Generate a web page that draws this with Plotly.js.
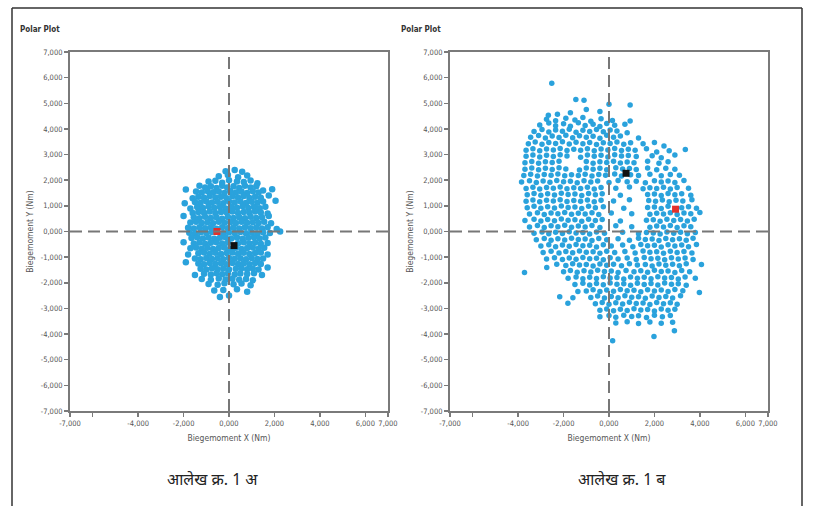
<!DOCTYPE html>
<html>
<head>
<meta charset="utf-8">
<script src="https://cdn.plot.ly/plotly-3.0.1.min.js"></script>
<style>html,body{margin:0;padding:0;background:#fff}#chart{width:813px;height:506px}</style>
</head>
<body>
<div id="chart"></div>
<script>
// Axis ticks
const xTickVals = [-7000,-6000,-4000,-2000,0,2000,4000,6000,7000];
const xTickText = ["-7,000","","-4,000","-2,000","0,000","2,000","4,000","6,000","7,000"];
const yTickVals = [7000,6000,5000,4000,3000,2000,1000,0,-1000,-2000,-3000,-4000,-5000,-6000,-7000];
const yTickText = ["7,000","6,000","5,000","4,000","3,000","2,000","1,000","0,000","-1,000","-2,000","-3,000","-4,000","-5,000","-6,000","-7,000"];

// Chart 1 (left) measured points [x, y] in Nm
const leftPoints = [
[-150,2350],[250,2400],[580,2330],
[-450,2150],[-50,2200],[400,2120],[800,2180],
[-900,1950],[-600,1980],[-300,1900],[0,2000],[350,1950],[650,1930],[950,1990],[1250,1880],
[-1300,1780],[-1050,1720],[-800,1760],[-550,1700],[-300,1780],[-80,1720],[200,1760],[450,1700],[700,1780],[950,1720],[1200,1760],[1900,1650],
[-1900,1640],[-1450,1560],[-1200,1520],[-950,1580],[-700,1530],[-450,1560],[-200,1500],[50,1580],[300,1520],[550,1560],[800,1500],[1050,1570],[1300,1520],[1500,1600],
[-1600,1300],[-1350,1360],[-1100,1320],[-850,1380],[-600,1330],[-350,1360],[-100,1300],[150,1370],[400,1330],[650,1380],[900,1310],[1150,1360],[1400,1320],[1750,1400],
[-1950,1100],[-1500,1150],[-1250,1120],[-1000,1180],[-750,1130],[-500,1160],[-250,1100],[0,1170],[250,1130],[500,1180],[750,1110],[1000,1160],[1250,1120],[1500,1170],[2050,1200],
[-1700,900],[-1400,960],[-1150,920],[-900,980],[-650,930],[-400,960],[-150,900],[100,970],[350,930],[600,980],[850,920],[1100,960],[1350,910],[1600,970],
[-1600,720],[-1350,760],[-1100,730],[-850,780],[-600,720],[-350,760],[-100,740],[150,780],[400,720],[650,760],[900,730],[1150,780],[1400,740],[1700,700],
[-2000,600],[-1550,560],[-1300,520],[-1050,580],[-800,530],[-550,560],[-300,500],[-50,570],[200,530],[450,560],[700,520],[950,580],[1200,530],[1450,560],[1750,600],
[-1700,350],[-1450,380],[-1200,330],[-950,360],[-700,320],[-450,380],[-200,340],[50,360],[300,330],[550,380],[800,340],[1050,360],[1300,330],[1550,380],[1850,320],
[-1800,150],[-1550,120],[-1300,170],[-1050,130],[-800,160],[-550,110],[-300,170],[-50,130],[200,160],[450,120],[700,170],[950,130],[1200,160],[1450,120],[1700,170],[2100,100],
[-1750,-50],[-1500,-80],[-1250,-30],[-1000,-60],[-750,-20],[-250,-70],[0,-30],[250,-60],[500,-20],[750,-70],[1000,-40],[1250,-80],[1500,-30],[1800,-60],[2250,0],
[-1650,-250],[-1400,-220],[-1150,-270],[-900,-230],[-650,-280],[-400,-240],[-150,-220],[100,-270],[350,-230],[600,-280],[850,-240],[1100,-220],[1350,-270],[1600,-230],
[-2000,-420],[-1550,-470],[-1300,-430],[-1050,-480],[-800,-440],[-550,-420],[-300,-470],[-50,-430],[400,-460],[650,-420],[900,-470],[1150,-430],[1400,-480],[1700,-450],
[-1700,-650],[-1450,-620],[-1200,-670],[-950,-630],[-700,-680],[-450,-640],[-200,-620],[50,-670],[300,-630],[550,-680],[800,-640],[1050,-620],[1300,-670],[1550,-630],
[-1800,-900],[-1350,-850],[-1100,-820],[-850,-870],[-600,-830],[-350,-880],[-100,-840],[150,-820],[400,-870],[650,-830],[900,-880],[1150,-840],[1400,-820],[1700,-900],
[-1500,-1050],[-1250,-1080],[-1000,-1030],[-750,-1070],[-500,-1040],[-250,-1080],[0,-1030],[250,-1060],[500,-1040],[750,-1080],[1000,-1030],[1250,-1070],[1500,-1050],
[-1900,-1200],[-1350,-1250],[-1100,-1280],[-850,-1230],[-600,-1270],[-350,-1240],[-100,-1280],[150,-1230],[400,-1270],[650,-1240],[900,-1280],[1150,-1230],[1400,-1270],
[-1250,-1450],[-1000,-1480],[-750,-1430],[-500,-1470],[-250,-1440],[0,-1480],[300,-1450],[550,-1430],[800,-1470],[1050,-1440],[1300,-1480],[1700,-1400],
[-1500,-1700],[-1100,-1650],[-800,-1680],[-550,-1630],[-300,-1670],[-50,-1640],[250,-1680],[500,-1640],[800,-1660],[1100,-1630],[1450,-1700],
[-1200,-1850],[-800,-1880],[-450,-1830],[-150,-1870],[150,-1840],[450,-1880],[750,-1850],[1050,-1900],
[-900,-2050],[-500,-2080],[-200,-2020],[200,-2060],[550,-2030],[950,-2100],
[-650,-2300],[-250,-2280],[350,-2250],[800,-2350],
[0,-2500],[-400,-2550]
];
const leftRed = [-530, 0];
const leftBlack = [220, -550];

// Chart 2 (right) measured points [x, y] in Nm
const rightPoints = [
[-2520,5780],
[-1460,5150],[-1100,5120],
[0,4960],[930,4930],
[-2670,4530],[-2270,4570],[-1700,4630],[-1000,4760],[-400,4680],
[-2750,4380],[-2350,4320],[-1900,4420],[-1500,4350],[-1150,4450],[-800,4300],[-350,4400],[150,4330],[930,4310],
[-3050,4150],[-2650,4230],[-2350,4120],[-2000,4200],[-1700,4100],[-1350,4240],[-1050,4130],[-700,4180],[-400,4090],[-100,4210],[250,4140],[700,4180],
[-3300,3900],[-2950,3980],[-2650,3880],[-2350,3960],[-2050,3910],[-1750,3990],[-1450,3870],[-1150,3950],[-850,3900],[-550,3980],[-250,3890],[50,3960],[350,3920],[800,3850],
[-3450,3680],[-3100,3740],[-2800,3650],[-2500,3720],[-2200,3670],[-1900,3750],[-1600,3660],[-1300,3730],[-1000,3680],[-700,3710],[-400,3640],[-100,3750],[200,3680],[500,3720],[1300,3650],[2000,3470],
[-3550,3420],[-3250,3490],[-2950,3400],[-2650,3470],[-2350,3430],[-2050,3500],[-1750,3410],[-1450,3480],[-1150,3420],[-850,3470],[-550,3390],[-250,3460],[50,3430],[350,3490],[650,3400],[950,3460],[1500,3420],[2420,3330],[3360,3200],
[-3650,3170],[-3350,3230],[-3050,3150],[-2750,3220],[-2450,3180],[-2150,3240],[-1850,3160],[-1550,3210],[-1250,3170],[-950,3230],[-650,3150],[-350,3220],[-50,3180],[250,3240],[550,3160],[850,3210],[1150,3170],[1650,3230],[2100,3100],[2650,3150],
[-3650,2930],[-3350,2980],[-3050,2910],[-2750,2970],[-2450,2920],[-2150,2990],[-1850,2940],[-1250,2900],[-950,2980],[-650,2930],[-350,2970],[-50,2910],[250,2990],[550,2940],[850,2960],[1200,2920],[1900,2950],[2300,2880],[2900,2980],
[-3700,2680],[-3400,2730],[-3100,2660],[-2800,2720],[-2500,2690],[-2200,2740],[-1000,2730],[-700,2660],[-400,2720],[-100,2690],[200,2740],[500,2670],[800,2710],[1100,2680],[1700,2740],[2200,2660],[2600,2720],
[-3700,2430],[-3400,2480],[-3100,2410],[-2800,2470],[-2500,2420],[-2200,2490],[-1900,2440],[-1300,2400],[-1000,2480],[-700,2430],[-400,2470],[-100,2410],[300,2490],[600,2440],[900,2460],[1200,2420],[1700,2480],[2100,2410],[2500,2470],[2900,2430],
[-3750,2180],[-3450,2230],[-3150,2160],[-2850,2220],[-2550,2190],[-2250,2240],[-1950,2170],[-1650,2210],[-1350,2180],[-1050,2230],[-750,2160],[-450,2220],[-150,2190],[250,2240],[550,2160],[950,2210],[1300,2180],[1800,2230],[2300,2170],[2700,2220],[3100,2190],
[-3850,1930],[-3500,1980],[-3200,1910],[-2900,1970],[-2600,1920],[-2300,1990],[-2000,1940],[-1700,1960],[-1400,1900],[-1100,1980],[-800,1930],[-500,1970],[0,1910],[400,1990],[800,1940],[1200,1960],[1600,1900],[2000,1980],[2300,1930],[2600,1970],[2900,1910],[3300,1990],
[-3650,1680],[-3350,1730],[-3050,1660],[-2750,1720],[-2450,1690],[-2150,1740],[-1850,1670],[-1550,1710],[-1250,1680],[-950,1730],[-650,1660],[-350,1720],[300,1690],[900,1740],[1500,1670],[1800,1710],[2100,1680],[2400,1730],[2700,1660],[3000,1720],[3500,1690],
[-3600,1430],[-3300,1480],[-3000,1410],[-2700,1470],[-2400,1420],[-2100,1490],[-1800,1440],[-1500,1460],[-1200,1400],[-900,1480],[-600,1430],[-300,1470],[500,1410],[1700,1440],[2000,1460],[2300,1400],[2600,1480],[2900,1430],[3200,1470],[3600,1410],
[-3650,1180],[-3350,1230],[-3050,1160],[-2750,1220],[-2450,1190],[-2150,1240],[-1850,1170],[-1550,1210],[-1250,1180],[-950,1230],[-650,1160],[-350,1220],[200,1190],[900,1240],[1750,1210],[2050,1180],[2350,1230],[2650,1160],[2950,1220],[3250,1190],[3650,1240],
[-3600,930],[-3300,980],[-3000,910],[-2700,970],[-2400,920],[-2100,990],[-1800,940],[-1500,960],[-1200,900],[-900,980],[-600,930],[-250,970],[650,910],[1700,940],[2000,960],[2300,900],[2600,980],[3200,930],[3500,970],[3850,910],
[-3500,680],[-3150,730],[-2850,660],[-2550,720],[-2250,690],[-1950,740],[-1650,670],[-1350,710],[-1050,680],[-750,730],[-450,660],[100,720],[1000,690],[1800,670],[2100,710],[2400,680],[2700,730],[3000,660],[3300,720],[3600,690],[4000,740],
[-3700,430],[-3300,480],[-3000,410],[-2700,470],[-2400,420],[-2100,490],[-1800,440],[-1500,460],[-1200,400],[-900,480],[-600,430],[-300,470],[500,410],[1650,440],[1950,460],[2250,400],[2550,480],[2850,430],[3150,470],[3450,410],[3750,480],
[-3500,180],[-3150,230],[-2850,160],[-2550,220],[-2250,190],[-1950,240],[-1650,170],[-1350,210],[-1050,180],[-750,230],[-400,160],[300,220],[1000,190],[1800,170],[2100,210],[2400,180],[2700,230],[3000,160],[3300,220],[3600,190],
[-3300,-70],[-2950,-20],[-2650,-90],[-2350,-30],[-2050,-80],[-1750,-10],[-1450,-60],[-1150,-40],[-850,-100],[-550,-20],[-200,-70],[600,-30],[1300,-90],[1650,-40],[1950,-60],[2250,-100],[2550,-20],[2850,-70],[3150,-30],[3450,-90],[3800,-40],
[-3200,-320],[-2850,-270],[-2550,-340],[-2250,-280],[-1950,-330],[-1650,-260],[-1350,-310],[-1050,-290],[-750,-350],[-450,-270],[-100,-320],[400,-280],[900,-340],[1300,-260],[1600,-310],[1900,-290],[2200,-350],[2500,-270],[2800,-320],[3100,-280],[3400,-340],[3700,-260],
[-3000,-570],[-2650,-520],[-2350,-590],[-2050,-530],[-1750,-580],[-1450,-510],[-1150,-560],[-850,-540],[-550,-600],[-250,-520],[100,-570],[600,-530],[1050,-590],[1400,-510],[1700,-560],[2000,-540],[2300,-600],[2600,-520],[2900,-570],[3200,-530],[3500,-590],[3850,-510],
[-2900,-820],[-2550,-770],[-2200,-840],[-1900,-780],[-1600,-830],[-1300,-760],[-1000,-810],[-700,-790],[-400,-850],[-100,-770],[250,-820],[700,-780],[1150,-840],[1500,-760],[1800,-810],[2100,-790],[2400,-850],[2700,-770],[3000,-820],[3300,-780],[3650,-840],
[-2750,-1070],[-2400,-1020],[-2050,-1090],[-1750,-1030],[-1450,-1080],[-1150,-1010],[-850,-1060],[-550,-1040],[-250,-1100],[50,-1020],[400,-1070],[800,-1030],[1200,-1090],[1550,-1010],[1850,-1060],[2150,-1040],[2450,-1100],[2750,-1020],[3050,-1070],[3350,-1030],[3700,-1090],
[-2740,-1400],[-2300,-1280],[-1900,-1330],[-1600,-1260],[-1300,-1310],[-1000,-1290],[-700,-1350],[-400,-1270],[-100,-1320],[200,-1280],[550,-1340],[900,-1260],[1250,-1310],[1600,-1290],[1900,-1350],[2200,-1270],[2500,-1320],[2800,-1280],[3100,-1340],[3400,-1260],[4070,-1290],
[-3720,-1600],[-2000,-1570],[-1700,-1520],[-1400,-1590],[-1100,-1530],[-800,-1580],[-500,-1510],[-200,-1560],[100,-1540],[400,-1600],[750,-1520],[1100,-1570],[1400,-1530],[1700,-1590],[2000,-1510],[2300,-1560],[2600,-1540],[2900,-1600],[3200,-1520],[3550,-1570],
[-1800,-1820],[-1450,-1770],[-1150,-1840],[-850,-1780],[-550,-1830],[-250,-1760],[50,-1810],[350,-1790],[650,-1850],[950,-1770],[1250,-1820],[1550,-1780],[1850,-1840],[2150,-1760],[2450,-1810],[2750,-1790],[3050,-1850],[3350,-1770],[3800,-1820],
[-1500,-2070],[-1150,-2020],[-850,-2090],[-550,-2030],[-250,-2080],[50,-2010],[350,-2060],[650,-2040],[950,-2100],[1250,-2020],[1550,-2070],[1850,-2030],[2150,-2090],[2450,-2010],[2750,-2060],[3050,-2040],[3400,-2100],
[-2170,-2540],[-1370,-2340],[-1000,-2320],[-700,-2270],[-400,-2340],[-100,-2280],[200,-2330],[500,-2260],[800,-2310],[1100,-2290],[1400,-2350],[1700,-2270],[2000,-2320],[2300,-2280],[2600,-2340],[2900,-2260],[3250,-2310],[3980,-2380],
[-1590,-2580],[-800,-2570],[-500,-2520],[-200,-2590],[100,-2530],[400,-2580],[700,-2510],[1000,-2560],[1300,-2540],[1600,-2600],[1900,-2520],[2200,-2570],[2500,-2530],[2800,-2590],[3150,-2510],
[-1810,-2800],[-600,-2820],[-300,-2770],[0,-2840],[300,-2780],[600,-2830],[900,-2760],[1200,-2810],[1500,-2790],[1800,-2850],[2100,-2770],[2400,-2820],[2700,-2780],[3000,-2840],
[-400,-3070],[-100,-3020],[200,-3090],[500,-3030],[800,-3080],[1100,-3010],[1400,-3060],[1700,-3040],[2000,-3100],[2300,-3020],[2600,-3070],[2900,-3030],
[-400,-3320],[0,-3280],[300,-3340],[650,-3270],[1000,-3310],[1300,-3290],[1650,-3350],[2000,-3270],[2350,-3320],[2700,-3280],
[300,-3570],[800,-3520],[1300,-3590],[1800,-3530],[2300,-3580],[2800,-3540],
[2880,-3870],[1980,-4090],[160,-4260]
];
const rightRed = [2930, 870];
const rightBlack = [750, 2270];

const captions = ["आलेख क्र. 1 अ", "आलेख क्र. 1 ब"];
const panelTitle = "Polar Plot";
const xTitle = "Biegemoment X (Nm)";
const yTitle = "Biegemoment Y (Nm)";

const BLUE = '#2aa2dc';
const AX = '#7a7a7a';
const FONT = 'DejaVu Sans Condensed, Liberation Sans Narrow, Liberation Sans, sans-serif';
const tickFont = {family: FONT, size: 7.5, color: '#555'};

function scatter(pts, xa, ya, sz) {
  return {x: pts.map(p => p[0]), y: pts.map(p => p[1]), xaxis: xa, yaxis: ya, type: 'scatter', mode: 'markers',
    marker: {color: BLUE, size: sz}, hoverinfo: 'skip'};
}
function special(pt, color, xa, ya) {
  return {x: [pt[0]], y: [pt[1]], xaxis: xa, yaxis: ya, type: 'scatter', mode: 'markers',
    marker: {color: color, size: 7, symbol: 'square'}, hoverinfo: 'skip'};
}

const data = [
  scatter(leftPoints, 'x', 'y', 6.5),
  special(leftRed, '#e2312b', 'x', 'y'),
  special(leftBlack, '#111', 'x', 'y'),
  scatter(rightPoints, 'x2', 'y2', 5.5),
  special(rightRed, '#e2312b', 'x2', 'y2'),
  special(rightBlack, '#111', 'x2', 'y2')
];

const W = 813, H = 506;
const yDom = [(H - 411) / H, (H - 52) / H];
function xAxis(dom, anchor) {
  return {domain: dom, anchor: anchor, range: [-7000, 7000], tickmode: 'array', tickvals: xTickVals, ticktext: xTickText,
    ticks: 'outside', ticklen: 4, tickwidth: 1.5, tickcolor: AX, showline: true, linecolor: AX, linewidth: 2, mirror: true,
    showgrid: false, zeroline: false, tickfont: tickFont, fixedrange: true,
    title: {text: xTitle, font: {family: FONT, size: 8.5, color: '#555'}, standoff: 8}};
}
function yAxis(anchor) {
  return {domain: yDom, anchor: anchor, range: [-7000, 7000], tickmode: 'array', tickvals: yTickVals, ticktext: yTickText,
    ticks: 'outside', ticklen: 4, tickwidth: 1.5, tickcolor: AX, showline: true, linecolor: AX, linewidth: 2, mirror: true,
    showgrid: false, zeroline: false, tickfont: tickFont, fixedrange: true,
    title: {text: yTitle, font: {family: FONT, size: 8.5, color: '#555'}, standoff: 6}};
}

const dashLine = {color: '#777', width: 2, dash: '12px,6px'};
const shapes = [];
[['x','y'],['x2','y2']].forEach(([xa, ya]) => {
  shapes.push({type: 'line', xref: xa, yref: ya, x0: 0, x1: 0, y0: -7000, y1: 7000, line: dashLine, layer: 'above'});
  shapes.push({type: 'line', xref: xa, yref: ya, x0: -7000, x1: 7000, y0: 0, y1: 0, line: dashLine, layer: 'above'});
});
const frame = {color: '#333', width: 1.5};
const fl = 12 / W, fr = 802 / W, ft = (H - 8) / H;
shapes.push({type: 'line', xref: 'paper', yref: 'paper', x0: fl, x1: fl, y0: 0, y1: ft, line: frame});
shapes.push({type: 'line', xref: 'paper', yref: 'paper', x0: fr, x1: fr, y0: 0, y1: ft, line: frame});
shapes.push({type: 'line', xref: 'paper', yref: 'paper', x0: fl, x1: fr, y0: ft, y1: ft, line: frame});

const capFont = {family: 'Noto Sans Devanagari, Lohit Devanagari, FreeSans, Noto Sans, sans-serif', size: 16, color: '#222'};
const annotations = [
  {text: '<b>' + panelTitle + '</b>', x: 18 / W, y: (H - 30) / H, xref: 'paper', yref: 'paper', xanchor: 'left', yanchor: 'middle', showarrow: false, font: {family: FONT, size: 8, color: '#333'}},
  {text: '<b>' + panelTitle + '</b>', x: 399 / W, y: (H - 30) / H, xref: 'paper', yref: 'paper', xanchor: 'left', yanchor: 'middle', showarrow: false, font: {family: FONT, size: 8, color: '#333'}},
  {text: captions[0], x: 212 / W, y: (H - 481) / H, xref: 'paper', yref: 'paper', xanchor: 'center', yanchor: 'middle', showarrow: false, font: capFont},
  {text: captions[1], x: 622 / W, y: (H - 481) / H, xref: 'paper', yref: 'paper', xanchor: 'center', yanchor: 'middle', showarrow: false, font: capFont}
];

const layout = {
  width: W, height: H, margin: {l: 0, r: 0, t: 0, b: 0}, paper_bgcolor: '#fff', plot_bgcolor: '#fff', showlegend: false,
  xaxis: xAxis([70 / W, 388 / W], 'y'), yaxis: yAxis('x'),
  xaxis2: xAxis([450 / W, 768 / W], 'y2'), yaxis2: yAxis('x2'),
  shapes: shapes, annotations: annotations
};

Plotly.newPlot('chart', data, layout, {displayModeBar: false, staticPlot: true});
</script>
</body>
</html>
